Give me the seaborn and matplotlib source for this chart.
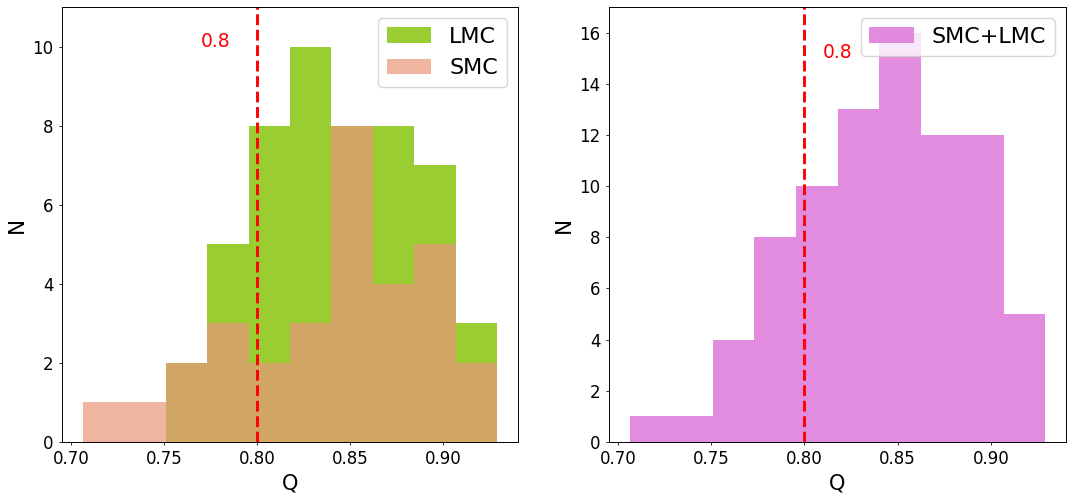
import numpy as np
import pandas as pd
import matplotlib
matplotlib.use("Agg")
import matplotlib.pyplot as plt
import seaborn as sns

# ---- data ----
q_min = 0.7063
q_max = 0.9291
n_bins = 10
smc_counts = [1, 1, 2, 3, 2, 3, 8, 4, 5, 2]
lmc_counts = [0, 0, 2, 5, 8, 10, 8, 8, 7, 3]
q_cut = 0.80
cut_label = "0.8"

edges = np.linspace(q_min, q_max, n_bins + 1)
centers = 0.5 * (edges[:-1] + edges[1:])
both_counts = [s + l for s, l in zip(smc_counts, lmc_counts)]

df = pd.DataFrame({"Q": centers, "SMC": smc_counts, "LMC": lmc_counts, "ALL": both_counts})

fig = plt.figure(figsize=(10.72, 4.98), dpi=100)
ax1 = fig.add_axes([62/1072, 1-442/498, 456/1072, 435/498])
ax2 = fig.add_axes([609/1072, 1-442/498, 457/1072, 435/498])

sns.histplot(data=df, x="Q", weights="LMC", bins=n_bins, binrange=(q_min, q_max),
             color="yellowgreen", alpha=1.0, linewidth=0, ax=ax1, label="LMC")
sns.histplot(data=df, x="Q", weights="SMC", bins=n_bins, binrange=(q_min, q_max),
             color="darksalmon", alpha=0.7, linewidth=0, ax=ax1, label="SMC")
sns.histplot(data=df, x="Q", weights="ALL", bins=n_bins, binrange=(q_min, q_max),
             color="orchid", alpha=0.8, linewidth=0, ax=ax2, label="SMC+LMC")

ax1.set_ylim(0, 11)
ax2.set_ylim(0, 17)
ax1.set_yticks([0, 2, 4, 6, 8, 10])
ax2.set_yticks([0, 2, 4, 6, 8, 10, 12, 14, 16])

for ax in (ax1, ax2):
    ax.axvline(q_cut, color="red", linestyle="--", linewidth=2.1)
    ax.set_xlim(0.6952, 0.9402)
    ax.set_xlabel("Q", fontsize=15)
    ax.set_ylabel("N", fontsize=15.5)
    ax.set_xticks([0.70, 0.75, 0.80, 0.85, 0.90])
    ax.set_xticklabels(["0.70", "0.75", "0.80", "0.85", "0.90"])
    ax.tick_params(labelsize=12, length=2.5, width=0.6)
    for sp in ax.spines.values():
        sp.set_linewidth(0.7)
    ax.legend(loc="upper right", fontsize=16)

ax1.text(0.77, 10, cut_label, color="red", fontsize=13.5)
ax2.text(0.81, 15, cut_label, color="red", fontsize=13.5)

fig.savefig("out.png", dpi=100)
